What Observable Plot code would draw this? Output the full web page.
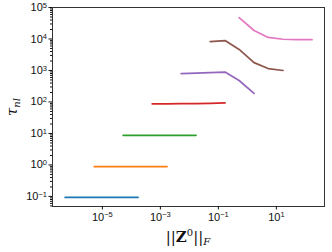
<!DOCTYPE html>
<html><head><meta charset="utf-8">
<script src="https://cdn.jsdelivr.net/npm/d3@7"></script>
<script src="https://cdn.jsdelivr.net/npm/@observablehq/plot@0.6"></script>
<style>body{margin:0;background:#fff}</style>
</head><body><div id="chart"></div>
<script>
const seriesNames = ["s0","s1","s2","s3","s4","s5","s6"];
const seriesColors = ["#1f77b4","#ff7f0e","#2ca02c","#d62728","#9467bd","#8c564b","#e377c2"];
const x0 = [5.2e-7,1.7e-6,5.2e-6,1.7e-5,5.2e-5,1.7e-4];
const y0 = [0.093,0.093,0.093,0.093,0.093,0.093];
const x1 = [5.2e-6,1.7e-5,5.2e-5,1.7e-4,5.2e-4,1.7e-3];
const y1 = [0.89,0.89,0.89,0.89,0.89,0.89];
const x2 = [5.2e-5,1.7e-4,5.2e-4,1.7e-3,5.2e-3,1.7e-2];
const y2 = [8.7,8.7,8.7,8.7,8.7,8.7];
const x3 = [5.2e-4,1.7e-3,5.2e-3,1.7e-2,5.2e-2,0.17];
const y3 = [87,87,88,88,90,93];
const x4 = [5.2e-3,1.7e-2,5.2e-2,0.17,0.52,1.7];
const y4 = [800,820,850,890,480,186];
const x5 = [0.052,0.17,0.52,1.7,5.2,17];
const y5 = [8300,8900,4650,1780,1150,1000];
const x6 = [0.52,1.7,5.2,17,52,170];
const y6 = [47900,18600,11200,9800,9600,9500];
const xTicks = [1e-5,1e-3,1e-1,1e1];
const xTickLabels = ["10^\u22125","10^\u22123","10^\u22121","10^1"];
const yTicks = [1e-1,1e0,1e1,1e2,1e3,1e4,1e5];
const yTickLabels = ["10^\u22121","10^0","10^1","10^2","10^3","10^4","10^5"];
const yMinorMultipliers = [2,3,4,5,6,7,8,9];

const xs = [x0,x1,x2,x3,x4,x5,x6];
const ys = [y0,y1,y2,y3,y4,y5,y6];
const rows = [];
seriesNames.forEach((s,k)=>xs[k].forEach((x,i)=>rows.push({series:s,x,y:ys[k][i]})));
const yMinor = [];
[0.01,0.1,1,10,100,1000,10000].forEach(d=>yMinorMultipliers.forEach(m=>{const v=d*m; if(v>0.0479&&v<1e5) yMinor.push(v);}));

const chart = Plot.plot({
  width:332, height:252,
  marginLeft:52, marginRight:8, marginTop:7, marginBottom:46,
  style:{fontFamily:"'Liberation Sans', Arial, sans-serif", fontSize:"11px", color:"#111", background:"#fff"},
  x:{type:"log", domain:[1.905e-7,457], label:null},
  y:{type:"log", domain:[0.0479,1e5], label:null},
  color:{domain:seriesNames, range:seriesColors},
  marks:[
    Plot.line(rows,{x:"x",y:"y",z:"series",stroke:"series",strokeWidth:1.7}),
    Plot.frame({stroke:"#333",strokeWidth:1}),
    Plot.axisY(yMinor,{tickSize:2,tickFormat:()=>"",label:null}),
    Plot.axisY(yTicks,{tickSize:3.5,tickPadding:2,fontSize:11,tickFormat:(d)=>yTickLabels[yTicks.indexOf(d)],label:null}),
    Plot.axisX(xTicks,{tickSize:3.5,tickPadding:3,fontSize:11,tickFormat:(d)=>xTickLabels[xTicks.indexOf(d)],label:null})
  ]
});
document.getElementById("chart").appendChild(chart);
const svg = d3.select(chart);
svg.selectAll("text").each(function(){
  const t = d3.select(this);
  const s = t.text();
  if(s.indexOf("^")>=0){
    const [b,e] = s.split("^");
    t.text(b);
    t.append("tspan").attr("dy","-0.45em").attr("font-size","7.5px").text(e);
  }
});
const xl = svg.append("text").attr("x",188).attr("y",242).attr("text-anchor","middle")
  .attr("font-family","'DejaVu Serif', 'Liberation Serif', serif").attr("font-size","15px").attr("fill","#111");
xl.append("tspan").text("||");
xl.append("tspan").attr("font-weight","bold").text("Z");
xl.append("tspan").attr("dy","-6").attr("font-size","10px").text("0");
xl.append("tspan").attr("dy","6").text("||");
xl.append("tspan").attr("dy","3").attr("font-size","10px").attr("font-style","italic").text("F");
const yl = svg.append("text").attr("transform","translate(17,107) rotate(-90)").attr("text-anchor","middle")
  .attr("font-family","'DejaVu Serif', 'Liberation Serif', serif").attr("font-size","15px").attr("fill","#111");
yl.append("tspan").attr("font-style","italic").text("τ");
yl.append("tspan").attr("dy","3").attr("font-size","10px").attr("font-style","italic").text("nl");
</script>
</body></html>
